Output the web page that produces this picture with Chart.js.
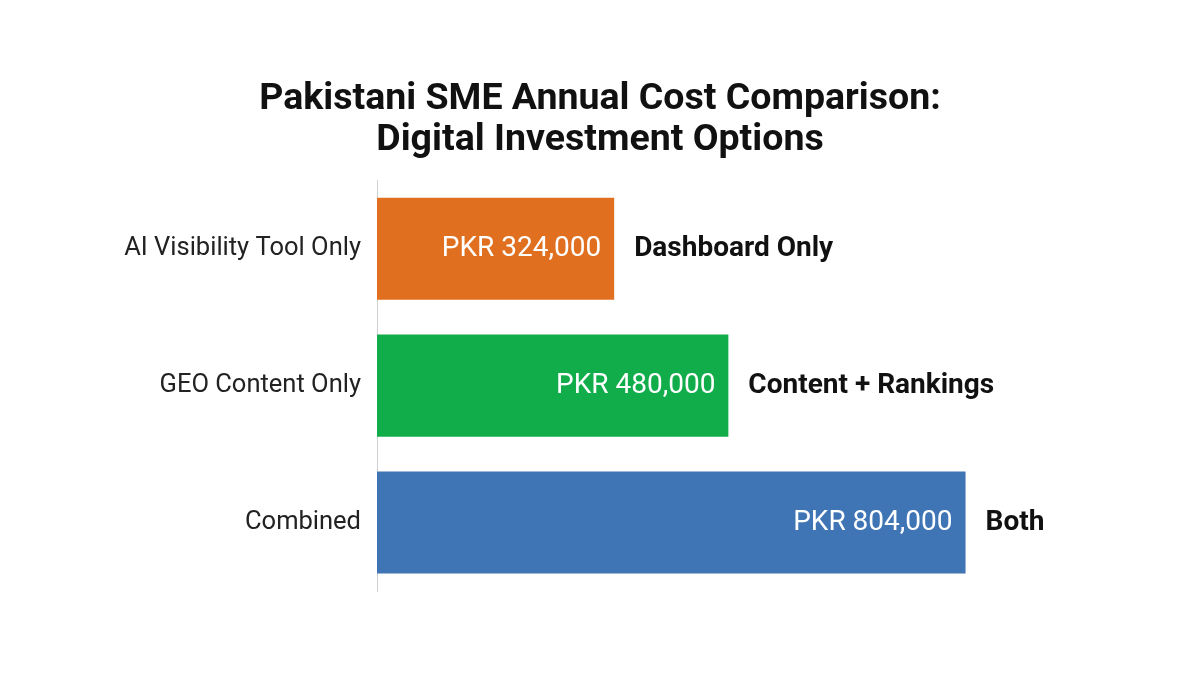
<!DOCTYPE html>
<html>
<head>
<meta charset="utf-8">
<script src="https://cdn.jsdelivr.net/npm/chart.js@4"></script>
<style>
  body { margin: 0; background: #fff; }
  #wrap { width: 1200px; height: 675px; }
</style>
</head>
<body>
<div id="wrap"><canvas id="c"></canvas></div>
<script>
const categories = ['AI Visibility Tool Only', 'GEO Content Only', 'Combined'];
const costs = [324000, 480000, 804000];
const notes = ['Dashboard Only', 'Content + Rankings', 'Both'];
const colors = ['#E07020', '#12AD4B', '#3F75B5'];

// draws the value inside each bar and the note after it
const barLabels = {
  id: 'barLabels',
  afterDatasetsDraw(chart) {
    const ctx = chart.ctx;
    const meta = chart.getDatasetMeta(0);
    ctx.save();
    ctx.textBaseline = 'middle';
    meta.data.forEach((bar, i) => {
      ctx.font = '28px Roboto, sans-serif';
      ctx.fillStyle = '#fff';
      ctx.textAlign = 'right';
      ctx.fillText('PKR ' + costs[i].toLocaleString('en-US'), bar.x - 13, bar.y);
      ctx.font = 'bold 28px Roboto, sans-serif';
      ctx.fillStyle = '#111';
      ctx.textAlign = 'left';
      ctx.fillText(notes[i], bar.x + 20, bar.y);
    });
    ctx.restore();
  }
};

new Chart(document.getElementById('c'), {
  type: 'bar',
  data: {
    labels: categories,
    datasets: [{data: costs, backgroundColor: colors, categoryPercentage: 0.745, barPercentage: 1}]
  },
  options: {
    indexAxis: 'y',
    responsive: true,
    maintainAspectRatio: false,
    animation: false,
    layout: {padding: {left: 80, right: 80, bottom: 84}},
    plugins: {
      legend: {display: false},
      tooltip: {enabled: false},
      title: {
        display: true,
        text: ['Pakistani SME Annual Cost Comparison:', 'Digital Investment Options'],
        color: '#111',
        font: {family: 'Roboto, sans-serif', size: 37.5, weight: 'bold', lineHeight: 1.07},
        padding: {top: 80, bottom: 20}
      }
    },
    scales: {
      x: {display: false, min: 0, max: 1015000},
      y: {
        grid: {display: false},
        border: {display: true, color: '#d0d0d0'},
        ticks: {color: '#222', padding: 8, font: {family: 'Roboto, sans-serif', size: 25.5}},
        afterFit(scale) { scale.width = 297; }
      }
    }
  },
  plugins: [barLabels]
});
</script>
</body>
</html>
